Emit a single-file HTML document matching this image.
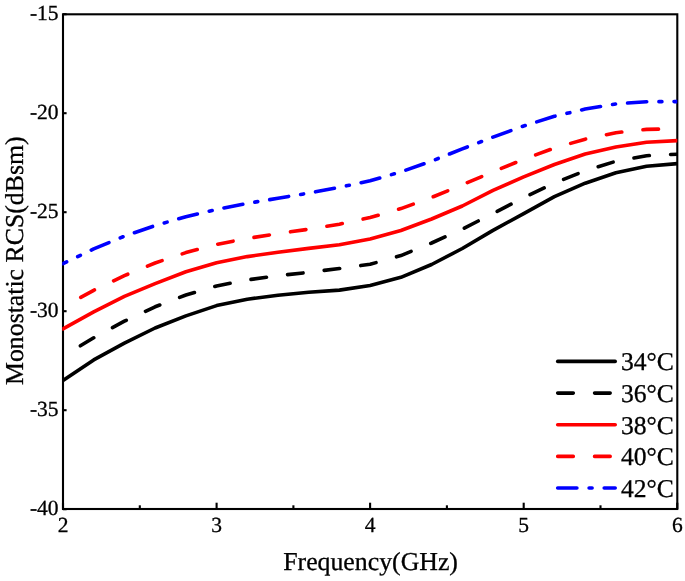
<!DOCTYPE html>
<html><head><meta charset="utf-8"><style>
html,body{margin:0;padding:0;background:#fff;}
body{width:685px;height:581px;overflow:hidden;}
svg{display:block;filter:blur(0.3px);font-family:"Liberation Serif",serif;text-rendering:geometricPrecision;}
text{stroke:#000;stroke-width:0.3px;}
</style></head><body>
<svg width="685" height="581" viewBox="0 0 685 581">
<rect x="0" y="0" width="685" height="581" fill="#fff"/>
<g fill="none" stroke="#000" stroke-width="2.1">
<rect x="63" y="14.3" width="614.3" height="494.7"/>
<line x1="63.0" y1="502.7" x2="63.0" y2="509" /><line x1="216.6" y1="502.7" x2="216.6" y2="509" /><line x1="370.1" y1="502.7" x2="370.1" y2="509" /><line x1="523.7" y1="502.7" x2="523.7" y2="509" /><line x1="677.3" y1="502.7" x2="677.3" y2="509" /><line x1="139.8" y1="505.3" x2="139.8" y2="509" /><line x1="293.4" y1="505.3" x2="293.4" y2="509" /><line x1="446.9" y1="505.3" x2="446.9" y2="509" /><line x1="600.5" y1="505.3" x2="600.5" y2="509" /><line x1="63" y1="14.2" x2="66.6" y2="14.2" /><line x1="63" y1="113.2" x2="66.6" y2="113.2" /><line x1="63" y1="212.2" x2="66.6" y2="212.2" /><line x1="63" y1="311.2" x2="66.6" y2="311.2" /><line x1="63" y1="410.2" x2="66.6" y2="410.2" /><line x1="63" y1="509.2" x2="66.6" y2="509.2" />
</g>
<defs><clipPath id="c"><rect x="62.2" y="0" width="615.1" height="509"/></clipPath></defs>
<g fill="none" stroke-width="3.6" stroke-linecap="round" stroke-linejoin="round" clip-path="url(#c)">
<polyline points="63.0,380.4 93.7,359.9 124.4,343.2 155.1,328.0 185.9,315.9 216.6,305.6 247.3,299.2 278.0,295.2 308.7,292.3 339.4,290.1 370.1,285.5 400.9,277.3 431.6,264.5 462.3,248.5 493.0,230.4 523.7,213.6 554.4,196.7 585.2,183.2 615.9,172.8 646.6,166.2 677.3,163.6" stroke="#000"/>
<polyline points="63.0,356.2 93.7,337.8 124.4,321.2 155.1,306.8 185.9,295.0 216.6,286.0 247.3,279.9 278.0,275.7 308.7,272.3 339.4,268.5 370.1,264.3 400.9,255.6 431.6,243.0 462.3,229.1 493.0,213.5 523.7,197.7 554.4,183.1 585.2,170.7 615.9,161.3 646.6,155.7 677.3,154.2" stroke="#000" stroke-dasharray="15.6 21.27" stroke-dashoffset="16.6"/>
<polyline points="63.0,328.8 93.7,311.9 124.4,296.3 155.1,283.6 185.9,271.8 216.6,262.7 247.3,256.6 278.0,252.2 308.7,248.4 339.4,244.8 370.1,238.9 400.9,230.5 431.6,219.0 462.3,206.0 493.0,190.4 523.7,176.9 554.4,164.5 585.2,154.0 615.9,147.0 646.6,142.3 677.3,140.6" stroke="#f00"/>
<polyline points="63.0,307.2 93.7,290.3 124.4,275.6 155.1,263.0 185.9,252.6 216.6,244.4 247.3,238.4 278.0,233.6 308.7,229.2 339.4,224.2 370.1,217.6 400.9,208.6 431.6,197.4 462.3,184.8 493.0,171.8 523.7,159.3 554.4,148.0 585.2,139.2 615.9,132.7 646.6,129.4 677.3,128.8" stroke="#f00" stroke-dasharray="15.6 21.27" stroke-dashoffset="16.6"/>
<polyline points="63.0,263.7 93.7,248.9 124.4,236.2 155.1,225.6 185.9,216.7 216.6,209.4 247.3,203.4 278.0,198.2 308.7,193.1 339.4,187.3 370.1,180.8 400.9,171.9 431.6,161.1 462.3,148.9 493.0,137.1 523.7,126.0 554.4,116.3 585.2,109.1 615.9,103.9 646.6,101.7 677.3,101.6" stroke="#00f" stroke-dasharray="19.2 12.2 3.0 12.1" stroke-dashoffset="15.1"/>
</g>

<g font-size="21.5" fill="#000">
<text x="58.6" y="20.1" text-anchor="end">-15</text><text x="58.6" y="119.1" text-anchor="end">-20</text><text x="58.6" y="218.1" text-anchor="end">-25</text><text x="58.6" y="317.1" text-anchor="end">-30</text><text x="58.6" y="416.1" text-anchor="end">-35</text><text x="58.6" y="515.1" text-anchor="end">-40</text>
<text x="63.0" y="532" text-anchor="middle">2</text><text x="216.6" y="532" text-anchor="middle">3</text><text x="370.1" y="532" text-anchor="middle">4</text><text x="523.7" y="532" text-anchor="middle">5</text><text x="677.3" y="532" text-anchor="middle">6</text>
</g>
<g font-size="25.6" fill="#000">
<text x="283.2" y="570.2" font-size="25.8">Frequency(GHz)</text>
<text transform="translate(23,385) rotate(-90)" font-size="25.8">Monostatic RCS(dBsm)</text>
</g>
<g fill="none" stroke-width="3.6" stroke-linecap="round">
<line x1="557.7" y1="361.4" x2="615.2" y2="361.4" stroke="#000" /><line x1="557.7" y1="393.1" x2="615.2" y2="393.1" stroke="#000" stroke-dasharray="15.6 21.27" /><line x1="557.7" y1="424.8" x2="615.2" y2="424.8" stroke="#f00" /><line x1="557.7" y1="456.4" x2="615.2" y2="456.4" stroke="#f00" stroke-dasharray="15.6 21.27" /><line x1="557.7" y1="488.0" x2="615.2" y2="488.0" stroke="#00f" stroke-dasharray="19.2 12.2 3.0 12.1" />
</g>
<g font-size="25.6" fill="#000">
<text x="621" y="370.2">34°C</text><text x="621" y="401.9">36°C</text><text x="621" y="433.6">38°C</text><text x="621" y="465.2">40°C</text><text x="621" y="496.8">42°C</text>
</g>
</svg>
</body></html>
